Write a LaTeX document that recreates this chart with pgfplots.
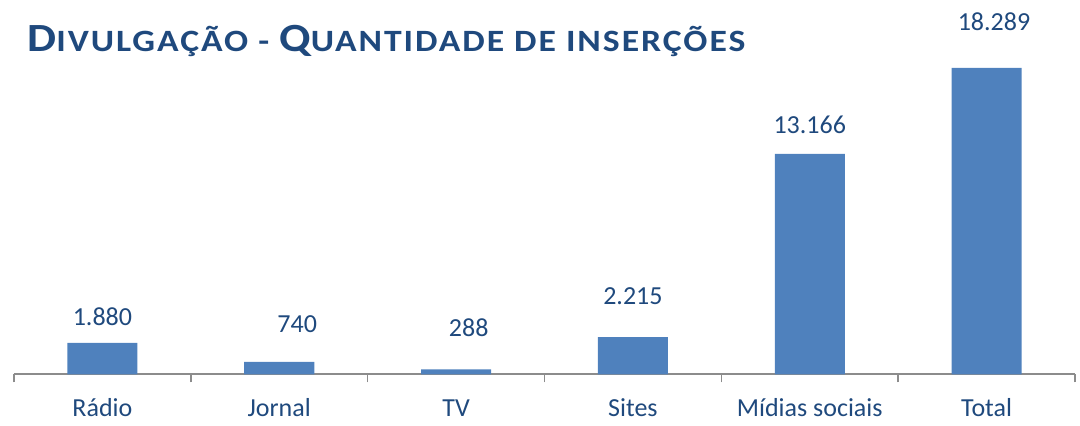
\documentclass[border=0pt]{standalone}
\usepackage{graphicx}
\usepackage{pgfplots}
\pgfplotsset{compat=1.18}
\usepackage{fontspec}
\setmainfont{Carlito}
\newfontfamily\titlefont[LetterSpace=5.5]{Carlito}
\definecolor{barblue}{HTML}{4F81BD}
\definecolor{txtblue}{HTML}{1F497D}
\definecolor{axgray}{HTML}{8C8C8C}

\begin{document}
\begin{tikzpicture}
% 1 px of the reference = 0.5pt
\useasboundingbox (-7pt,-25.85pt) rectangle (533pt,187.15pt);
\begin{axis}[
    at={(0pt,0pt)}, anchor=south west,
    scale only axis,
    width=530.5pt, height=187.15pt,
    xmin=-0.5, xmax=5.5,
    ymin=0, ymax=22349,
    axis y line=none,
    axis x line*=bottom,
    x axis line style={axgray, line width=0.8pt, -},
    xtick={0,...,5},
    xticklabels={Rádio, Jornal, TV, Sites, Mídias sociais, Total},
    major tick length=0pt,
    xticklabel style={font=\fontsize{13}{15}\selectfont, text=txtblue, anchor=base, yshift=-21.2pt},
    extra x ticks={-0.5,0.5,1.5,2.5,3.5,4.5,5.5},
    extra x tick labels={},
    extra x tick style={major tick length=4pt, tick align=outside, major tick style={axgray, line width=0.8pt}},
    clip=false,
]
\addplot[
    ybar, bar width=35pt, fill=barblue, draw=none,
    point meta=explicit,
    visualization depends on={\thisrow{dx} \as \dx},
    visualization depends on={\thisrow{dy} \as \dy},
    nodes near coords={\pgfmathprintnumber[1000 sep={.}, assume math mode=true]{\pgfplotspointmeta}},
    nodes near coords style={font=\fontsize{13}{15}\selectfont, text=txtblue, anchor=base, xshift=\dx pt, yshift=\dy pt, inner sep=0pt},
] table[x=x, y=y, meta=y] {
x y dx dy
0 1880 0 8.8
1 740 9 14.8
2 288 6.3 16.3
3 2215 0 16.5
4 13166 0 10.3
5 18289 3.7 18.8
};
\end{axis}
\node[anchor=base west, text=txtblue, inner sep=0pt] at (6.5pt,161.5pt)
  {\scalebox{1.15}[1]{\titlefont\bfseries\fontsize{20}{24}\selectfont D\fontsize{15.5}{18}\selectfont IVULGAÇÃO - \fontsize{20}{24}\selectfont Q\fontsize{15.5}{18}\selectfont UANTIDADE DE INSERÇÕES}};
\end{tikzpicture}
\end{document}
